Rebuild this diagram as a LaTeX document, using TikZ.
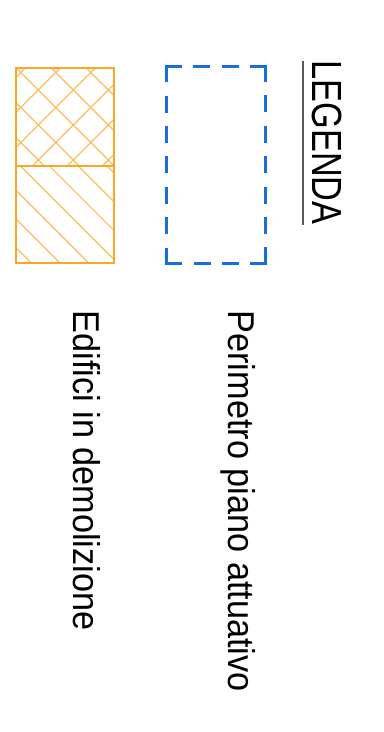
\documentclass[tikz,border=0pt]{standalone}
\usepackage{fontspec}
\setmainfont{Liberation Sans}
\definecolor{arancio}{RGB}{249,168,37}
\definecolor{blu}{RGB}{22,110,220}
\definecolor{grigio}{RGB}{90,90,90}

\begin{document}
\begin{tikzpicture}[x=0.75pt,y=-0.75pt,
	voce/.style={rotate=-90,yscale=1.09,anchor=base west,inner sep=0pt,font=\fontsize{25.7pt}{30pt}\selectfont},
	titolo/.style={voce,yscale=1.13},
	perimetro/.style={draw=blu,line width=2.25pt,line cap=rect,dash pattern=on 10.5pt off #1},
	bordo/.style={draw=arancio,line width=1.5pt},
	tratto/.style={draw=arancio!75,line width=0.9pt}]

\useasboundingbox (0,0) rectangle (384,732);

% titolo
\node[titolo] (legenda) at (312,60.5) {LEGENDA};
\draw[grigio,line width=1.1pt] ([xshift=-6.75pt]legenda.base west) -- ([xshift=-6.75pt]legenda.base east);

% perimetro
\draw[perimetro=10.8pt] (166.5,66.5) -- (265.8,66.5);
\draw[perimetro=12.3pt] (265.8,66.5) -- (265.8,263);
\draw[perimetro=10.8pt] (265.8,263) -- (166.5,263);
\draw[perimetro=12.3pt] (166.5,263) -- (166.5,66.5);
\node[voce] (perim) at (228,310.4) {Perimetro piano attuativo};

% edifici
\begin{scope}
	\clip (15.5,67.5) rectangle (113.5,165.7);
	\foreach \k in {-3,...,2}
		\draw[tratto] (0,{51.7-35*\k}) -- (130,{181.7-35*\k});
	\foreach \k in {-1,...,4}
		\draw[tratto] (0,{128.3+35*\k}) -- (130,{-1.7+35*\k});
\end{scope}
\begin{scope}
	\clip (15.5,165.7) rectangle (113.5,263);
	\foreach \k in {0,...,6}
		\draw[tratto] (0,{59+28.8*\k}) -- (130,{189+28.8*\k});
\end{scope}
\draw[bordo] (15.5,67.5) rectangle (113.5,263);
\draw[bordo] (15.5,165.7) -- (113.5,165.7);
\node[voce] (demol) at (73,310.3) {Edifici in demolizione};

\end{tikzpicture}
\end{document}
